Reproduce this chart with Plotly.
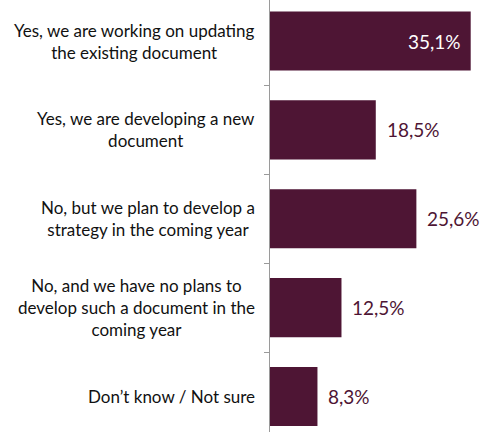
import plotly.graph_objects as go

# Survey answers (top to bottom) and their shares in percent
categories = [
    "Yes, we are working on updating<br>the existing document",
    "Yes, we are developing a new<br>document",
    "No, but we plan to develop a<br>strategy in the coming year",
    "No, and we have no plans to<br>develop such a document in the<br>coming year",
    "Don\u2019t know / Not sure",
]
values = [35.1, 18.5, 25.6, 12.5, 8.3]
value_labels = ["35,1%", "18,5%", "25,6%", "12,5%", "8,3%"]

W, H = 489, 432
LEFT = 270
BAR = "#4e1534"
XMAX = 38.3

positions = list(range(len(categories)))

fig = go.Figure(
    go.Bar(
        x=values,
        y=positions,
        orientation="h",
        width=0.665,
        marker=dict(color=BAR, line=dict(width=0)),
        hoverinfo="skip",
    )
)

annotations = []
plot_w = W - LEFT
for i, (cat, v, lab) in enumerate(zip(categories, values, value_labels)):
    # category label, centred lines, right edge next to the axis
    annotations.append(dict(
        x=-13 / plot_w, xref="paper", y=i, yref="y",
        text=cat, showarrow=False, xanchor="right", yanchor="middle",
        align="center", font=dict(family="Lato", size=17, color="#111111"),
    ))
    # value label: inside the longest bar, outside the others
    inside = v == max(values)
    annotations.append(dict(
        x=v, xref="x", y=i, yref="y", text=lab, showarrow=False,
        xanchor="right" if inside else "left",
        xshift=-8 if inside else 9, yanchor="middle",
        font=dict(family="Lato", size=19, color="white" if inside else BAR),
    ))

fig.update_layout(
    width=W, height=H,
    margin=dict(l=LEFT, r=0, t=0, b=0, pad=0),
    paper_bgcolor="white", plot_bgcolor="white",
    showlegend=False,
    annotations=annotations,
    xaxis=dict(range=[0, XMAX], visible=False, fixedrange=True),
    yaxis=dict(
        range=[4.40, -0.462],
        showline=True, linecolor="#9a9a9a", linewidth=1,
        ticks="outside", ticklen=5, tickcolor="#9a9a9a", tickwidth=1,
        tickvals=[0.5, 1.5, 2.5, 3.5], showticklabels=False,
        showgrid=False, zeroline=False, fixedrange=True,
    ),
)

fig.write_html("out.html")
